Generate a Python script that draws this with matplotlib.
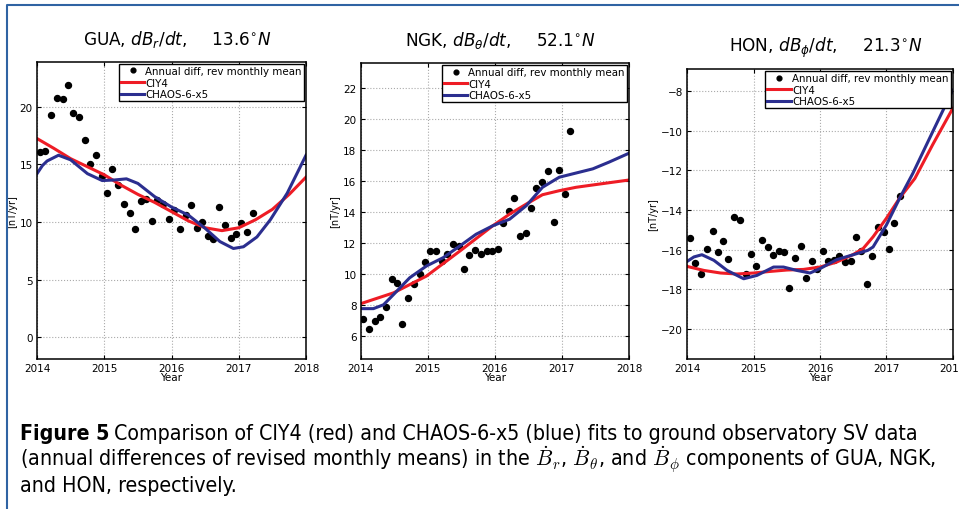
import numpy as np
import matplotlib
matplotlib.use('Agg')
import matplotlib.pyplot as plt
from matplotlib.lines import Line2D

# monthly sample times (annual differences of revised monthly means)
month_t = [2014.04, 2014.12, 2014.21, 2014.29, 2014.38, 2014.46, 2014.54, 2014.62,
           2014.71, 2014.79, 2014.88, 2014.96, 2015.04, 2015.12, 2015.21, 2015.29,
           2015.38, 2015.46, 2015.54, 2015.62, 2015.71, 2015.79, 2015.88, 2015.96,
           2016.04, 2016.12, 2016.21, 2016.29, 2016.38, 2016.46, 2016.54, 2016.62,
           2016.71, 2016.79, 2016.88, 2016.96, 2017.04, 2017.12, 2017.21]

gua_obs = [16.1, 16.2, 19.3, 20.8, 20.7, 21.9, 19.5, 19.1, 17.1, 15.0,
           15.8, 14.0, 12.5, 14.6, 13.2, 11.6, 10.8, 9.4, 11.8, 12.0,
           10.1, 11.9, 11.6, 10.3, 11.0, 9.4, 10.6, 11.5, 9.5, 10.0,
           8.8, 8.5, 11.3, 9.7, 8.6, 9.0, 9.9, 9.1, 10.8]
ngk_obs = [7.1, 6.43, 6.93, 7.23, 7.86, 9.68, 9.39, 6.78, 8.44, 9.37,
           9.96, 10.76, 11.47, 11.47, 10.82, 11.3, 11.95, 11.8, 10.32, 11.2,
           11.56, 11.27, 11.45, 11.45, 11.6, 13.3, 14.06, 14.86, 12.46, 12.6,
           14.26, 15.51, 15.9, 16.66, 13.33, 16.72, 15.12, 19.2]
hon_obs = [-15.40, -16.67, -17.21, -15.97, -15.08, -16.09, -15.57, -16.45, -14.37, -14.49,
           -17.21, -16.19, -16.82, -15.52, -15.86, -16.24, -16.08, -16.13, -17.93, -16.40,
           -15.82, -17.43, -16.58, -16.95, -16.08, -16.57, -16.50, -16.31, -16.62, -16.55,
           -15.35, -16.08, -17.71, -16.31, -14.83, -15.1, -15.96, -14.66, -13.31]

# model curves
gua_ciy_t = [2014, 2014.25, 2014.5, 2014.75, 2015, 2015.25, 2015.5, 2015.75, 2016,
             2016.25, 2016.5, 2016.75, 2017, 2017.25, 2017.5, 2017.75, 2018]
gua_ciy = [17.25, 16.4, 15.5, 14.8, 14.1, 13.2, 12.4, 11.7, 10.9,
           10.1, 9.5, 9.25, 9.5, 10.2, 11.1, 12.4, 13.9]
gua_chaos_t = [2014.0, 2014.08, 2014.15, 2014.32, 2014.5, 2014.75, 2014.97, 2015.15, 2015.33,
               2015.5, 2015.75, 2016.0, 2016.25, 2016.5, 2016.72, 2016.92, 2017.07,
               2017.27, 2017.47, 2017.72, 2018]
gua_chaos = [14.2, 14.9, 15.3, 15.8, 15.4, 14.2, 13.6, 13.65, 13.75,
             13.35, 12.2, 11.3, 10.6, 9.45, 8.3, 7.7, 7.85,
             8.7, 10.2, 12.5, 15.8]

ngk_ciy_t = [2014.0, 2014.49, 2014.98, 2015.48, 2015.97, 2016.22, 2016.47, 2016.71,
             2016.96, 2017.21, 2017.46, 2018]
ngk_ciy = [8.07, 8.77, 9.85, 11.47, 13.1, 13.85, 14.5, 15.1,
           15.36, 15.58, 15.73, 16.05]
ngk_chaos_t = [2014.0, 2014.19, 2014.34, 2014.49, 2014.73, 2014.98, 2015.23, 2015.48,
               2015.72, 2015.97, 2016.22, 2016.47, 2016.71, 2016.96, 2017.21, 2017.46,
               2017.70, 2018]
ngk_chaos = [7.75, 7.75, 8.0, 8.66, 9.74, 10.5, 11.04, 11.8,
             12.55, 13.1, 13.52, 14.4, 15.58, 16.23, 16.5, 16.77,
             17.2, 17.78]

hon_ciy_t = [2014, 2014.25, 2014.5, 2014.75, 2015, 2015.25, 2015.5, 2015.75, 2016,
             2016.25, 2016.5, 2016.65, 2016.8, 2017.0, 2017.2, 2017.43, 2017.7, 2018]
hon_ciy = [-16.84, -17.04, -17.17, -17.22, -17.17, -17.09, -17.02, -16.99, -16.87,
           -16.62, -16.24, -15.94, -15.35, -14.42, -13.4, -12.41, -10.7, -8.89]
hon_chaos_t = [2014, 2014.1, 2014.22, 2014.4, 2014.6, 2014.85, 2015.05, 2015.3, 2015.45,
               2015.65, 2015.85, 2016, 2016.25, 2016.5, 2016.72, 2016.8, 2017, 2017.2,
               2017.4, 2017.7, 2018]
hon_chaos = [-16.58, -16.36, -16.25, -16.53, -17.04, -17.46, -17.29, -16.87, -16.87,
             -17.04, -17.17, -16.95, -16.5, -16.25, -16.03, -15.86, -14.76, -13.41,
             -12.15, -10.05, -7.97]

titles = [r'GUA, $dB_r/dt,\ \ \ \ \mathit{13.6}^{\circ}\mathit{N}$',
          r'NGK, $dB_\theta/dt,\ \ \ \ \mathit{52.1}^{\circ}\mathit{N}$',
          r'HON, $dB_\phi/dt,\ \ \ \ \mathit{21.3}^{\circ}\mathit{N}$']
ylims = [(-1.9, 23.9), (4.5, 23.6), (-21.5, -6.9)]
yticks = [[0, 5, 10, 15, 20], [6, 8, 10, 12, 14, 16, 18, 20, 22], [-20, -18, -16, -14, -12, -10, -8]]

panels = [
    (month_t, gua_obs, gua_ciy_t, gua_ciy, gua_chaos_t, gua_chaos),
    (month_t[:38], ngk_obs, ngk_ciy_t, ngk_ciy, ngk_chaos_t, ngk_chaos),
    (month_t, hon_obs, hon_ciy_t, hon_ciy, hon_chaos_t, hon_chaos),
]
positions = [[0.0386, 0.2941, 0.2805, 0.5824],
             [0.3761, 0.2941, 0.2798, 0.5804],
             [0.7167, 0.2941, 0.2767, 0.5686]]

red = '#ee1c25'
blue = '#2b2e8f'

plt.rcParams['mathtext.fontset'] = 'dejavusans'
plt.rcParams['mathtext.it'] = 'DejaVu Sans:italic'

fig = plt.figure(figsize=(9.59, 5.10), dpi=100)

for i, (t, obs, ct, cv, ht, hv) in enumerate(panels):
    ax = fig.add_axes(positions[i])
    ax.plot(t, obs, 'o', color='black', ms=4.3, label='Annual diff, rev monthly mean')
    ax.plot(ct, cv, '-', color=red, lw=2.2, label='CIY4')
    ax.plot(ht, hv, '-', color=blue, lw=2.2, label='CHAOS-6-x5')
    ax.set_xlim(2014, 2018)
    ax.set_ylim(*ylims[i])
    ax.set_xticks([2014, 2015, 2016, 2017, 2018])
    ax.set_yticks(yticks[i])
    ax.grid(True, linestyle=':', color='#aaaaaa', lw=0.8)
    ax.tick_params(direction='in', top=True, right=True, labelsize=7.5, length=3, pad=3)
    for s in ax.spines.values():
        s.set_linewidth(1.1)
    ax.set_xlabel('Year', fontsize=7.5, labelpad=-1)
    ax.set_ylabel('[nT/yr]', fontsize=7, labelpad=2)
    ax.set_title(titles[i], fontsize=12.2, pad=13, x=0.52)
    leg = ax.legend(loc='upper right', fontsize=7.4, fancybox=False, edgecolor='black',
                    framealpha=1, borderpad=0.2, borderaxespad=0.2, handlelength=2.3,
                    handletextpad=0.1, labelspacing=0.15, numpoints=1, markerscale=0.8)
    leg.get_frame().set_linewidth(1.0)

# figure frame (top and left edges)
fig.add_artist(Line2D([7 / 959, 7 / 959, 1.0], [0.0, 1 - 6 / 510, 1 - 6 / 510],
                      transform=fig.transFigure, color='#2f63a3', lw=1.5))

# caption
cap_kw = dict(fontsize=15.3, family='DejaVu Sans', stretch='condensed', va='baseline')
bold = fig.text(20 / 959, 1 - 440 / 510, 'Figure 5', fontweight='bold', **cap_kw)
fig.canvas.draw()
bb = bold.get_window_extent(fig.canvas.get_renderer())
fig.text((bb.x1 + 5) / 959, 1 - 440 / 510,
         'Comparison of CIY4 (red) and CHAOS-6-x5 (blue) fits to ground observatory SV data',
         **cap_kw)
fig.text(20 / 959, 1 - 466 / 510,
         r'(annual differences of revised monthly means) in the $\dot{B}_r$, $\dot{B}_\theta$, and '
         r'$\dot{B}_\phi$ components of GUA, NGK,',
         math_fontfamily='cm', **cap_kw)
fig.text(20 / 959, 1 - 492 / 510, 'and HON, respectively.', **cap_kw)

fig.savefig('out.png', dpi=100)
